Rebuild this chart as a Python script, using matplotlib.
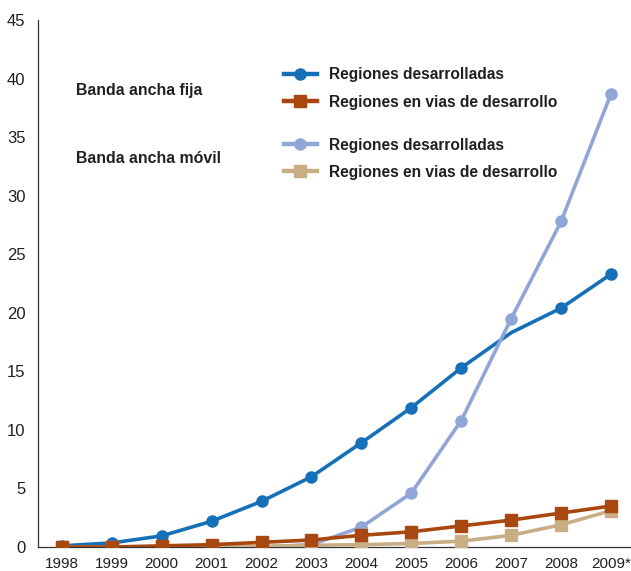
import matplotlib.pyplot as plt
from matplotlib.lines import Line2D

plt.rcParams['font.family'] = ['Liberation Sans', 'DejaVu Sans']

years = [1998, 1999, 2000, 2001, 2002, 2003, 2004, 2005, 2006, 2007, 2008, 2009]
year_labels = ['1998', '1999', '2000', '2001', '2002', '2003', '2004', '2005',
               '2006', '2007', '2008', '2009*']

fija_desarrolladas = [0.1, 0.35, 0.95, 2.2, 3.9, 6.0, 8.9, 11.9, 15.3, 18.3, 20.4, 23.3]
fija_en_desarrollo = [0.0, 0.0, 0.1, 0.2, 0.4, 0.6, 1.0, 1.3, 1.8, 2.3, 2.9, 3.5]
movil_desarrolladas = [0.0, 0.0, 0.0, 0.0, 0.0, 0.2, 1.7, 4.6, 10.8, 19.5, 27.8, 38.7]
movil_en_desarrollo = [0.0, 0.0, 0.0, 0.0, 0.05, 0.15, 0.2, 0.3, 0.5, 1.0, 1.9, 3.1]

c_blue = '#1570b8'
c_orange = '#a8470f'
c_lblue = '#8fa6d6'
c_tan = '#c9ad85'
c_text = '#231f20'

fig = plt.figure(figsize=(6.31, 5.71), dpi=100)
ax = fig.add_axes([0.060, 0.042, 0.94, 0.923])

lw = 2.6
ax.plot(years, movil_desarrolladas, color=c_lblue, lw=lw, marker='o', ms=8, zorder=2)
ax.plot(years, movil_en_desarrollo, color=c_tan, lw=lw, marker='s', ms=9, zorder=3)
# 2007 marker of the fixed broadband series is not shown in the original
ax.plot(years, fija_desarrolladas, color=c_blue, lw=lw, marker='o', ms=8, zorder=1,
        markevery=[i for i in range(len(years)) if years[i] != 2007])
ax.plot(years, fija_en_desarrollo, color=c_orange, lw=lw, marker='s', ms=9, zorder=4)

ax.set_xlim(1997.52, 2009.4)
ax.set_ylim(0, 45)
ax.set_xticks(years)
ax.set_xticklabels(year_labels)
ax.set_yticks(range(0, 46, 5))
ax.tick_params(axis='x', length=0, labelsize=11, colors=c_text, pad=7)
ax.tick_params(axis='y', length=0, labelsize=12, colors=c_text, pad=9)
for s in ['top', 'right']:
    ax.spines[s].set_visible(False)
for s in ['left', 'bottom']:
    ax.spines[s].set_color('#333333')
    ax.spines[s].set_linewidth(0.9)

ax.text(0.064, 0.867, 'Banda ancha fija', transform=ax.transAxes, fontsize=11.4,
        fontweight='bold', color=c_text, va='center')
ax.text(0.064, 0.738, 'Banda ancha móvil', transform=ax.transAxes, fontsize=11.4,
        fontweight='bold', color=c_text, va='center')


def handle(color, marker, ms):
    return Line2D([], [], color=color, lw=lw + 0.6, marker=marker, ms=ms)


leg_kw = dict(frameon=False, handlelength=2.1, handletextpad=0.8,
              labelspacing=0.78, borderaxespad=0, borderpad=0,
              prop={'weight': 'bold', 'size': 11.2})
leg1 = ax.legend([handle(c_blue, 'o', 8), handle(c_orange, 's', 9)],
                 ['Regiones desarrolladas', 'Regiones en vias de desarrollo'],
                 loc='upper left', bbox_to_anchor=(0.415, 0.91), **leg_kw)
for t in leg1.get_texts():
    t.set_color(c_text)
ax.add_artist(leg1)
leg2 = ax.legend([handle(c_lblue, 'o', 8), handle(c_tan, 's', 9)],
                 ['Regiones desarrolladas', 'Regiones en vias de desarrollo'],
                 loc='upper left', bbox_to_anchor=(0.415, 0.777), **leg_kw)
for t in leg2.get_texts():
    t.set_color(c_text)

fig.savefig('out.png', dpi=100)
